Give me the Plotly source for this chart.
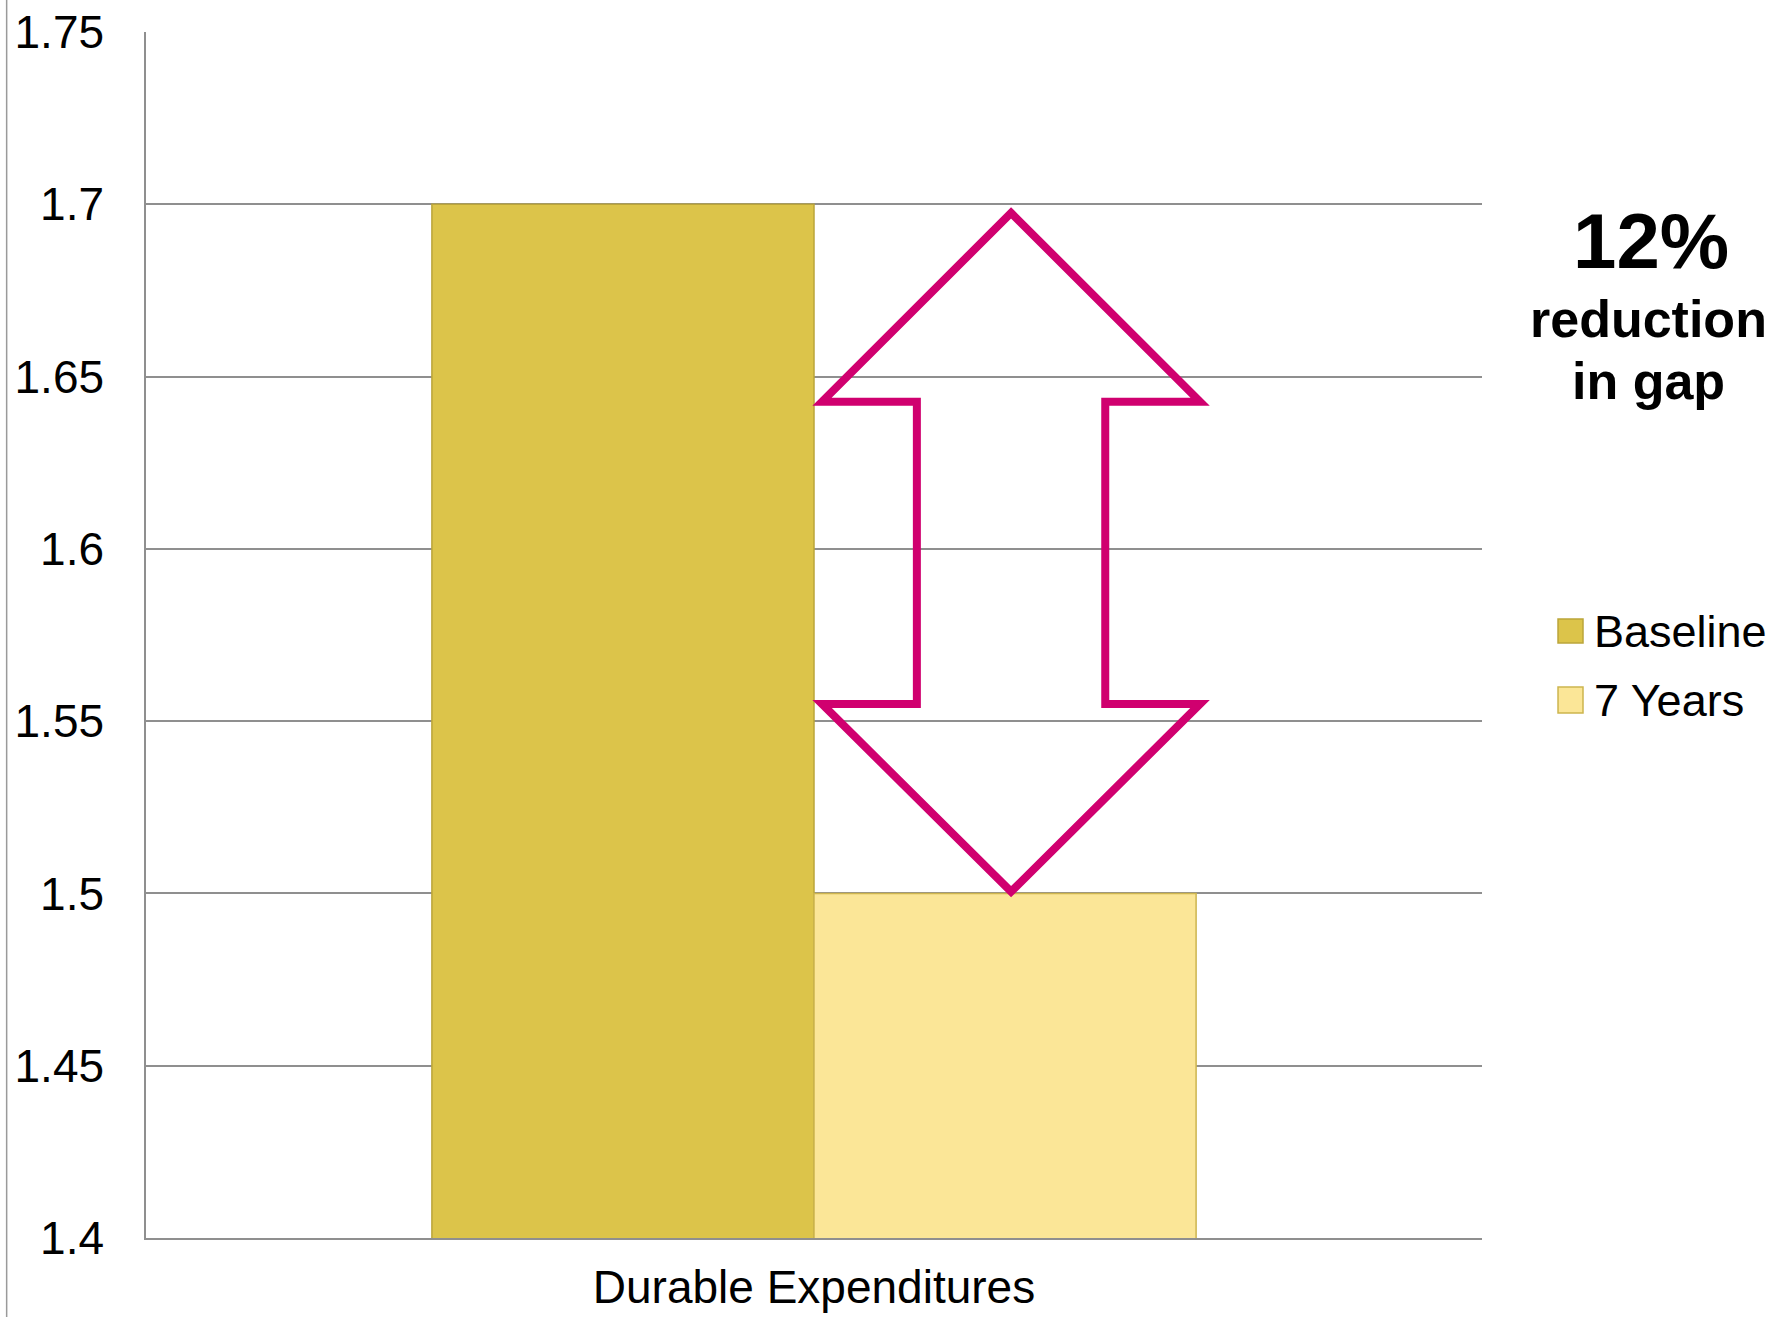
import plotly.graph_objects as go

# ---- data ----
categories = ["Durable Expenditures"]
series_names = ["Baseline", "7 Years"]
baseline_values = [1.70]
seven_year_values = [1.50]
y_tick_values = [1.4, 1.45, 1.5, 1.55, 1.6, 1.65, 1.7, 1.75]
headline_text = "12%"
subline_texts = ["reduction", "in gap"]

# ---- style ----
FONT = "Liberation Sans, Arial, sans-serif"
fill_colors = ["#DCC44A", "#FBE697"]
edge_colors = ["#BBA53A", "#CDB54E"]
grid_color = "#8F8F8F"
arrow_color = "#D0006F"

x_pos = list(range(len(categories)))

fig = go.Figure()
for name, vals, fc, ec in zip(series_names, [baseline_values, seven_year_values],
                              fill_colors, edge_colors):
    fig.add_trace(go.Bar(
        x=x_pos, y=vals, name=name,
        marker=dict(color=fc, line=dict(color=ec, width=1.5)),
        showlegend=False,
    ))

# double-headed block arrow spanning the gap between the two series
head_left, head_right = 0.006, 0.289
shaft_left, shaft_right = 0.077, 0.218
xc = (head_left + head_right) / 2
top_tip, bottom_tip = 1.6975, 1.5005
top_base, bottom_base = 1.6427, 1.555
pts = [(xc, top_tip), (head_right, top_base), (shaft_right, top_base),
       (shaft_right, bottom_base), (head_right, bottom_base), (xc, bottom_tip),
       (head_left, bottom_base), (shaft_left, bottom_base), (shaft_left, top_base),
       (head_left, top_base)]
path = "M " + " L ".join(f"{x},{y}" for x, y in pts) + " Z"
fig.add_shape(type="path", path=path, xref="x", yref="y",
              line=dict(color=arrow_color, width=8), fillcolor="rgba(0,0,0,0)",
              layer="above")

# thin frame line at the far left edge
fig.add_shape(type="line", xref="paper", yref="paper",
              x0=-0.1043, x1=-0.1043, y0=-0.1, y1=1.1,
              line=dict(color="#9A9A9A", width=1.5))

# legend drawn as swatches + labels
legend_rows = [(0.5133, 0.4934, 0.5033), (0.4568, 0.4353, 0.4461)]
for name, fc, ec, (ya, yb, yt) in zip(series_names, fill_colors, edge_colors, legend_rows):
    fig.add_shape(type="rect", xref="paper", yref="paper",
                  x0=1.0569, x1=1.0756, y0=yb, y1=ya,
                  fillcolor=fc, line=dict(color=ec, width=1.5))
    fig.add_annotation(text=name, xref="paper", yref="paper", x=1.0825, y=yt,
                       xanchor="left", yanchor="middle", showarrow=False,
                       font=dict(family=FONT, size=45, color="#000000"))

# headline annotation
fig.add_annotation(text=f"<b>{headline_text}</b>", xref="paper", yref="paper",
                   x=1.1265, y=0.8269, xanchor="center", yanchor="middle",
                   showarrow=False, font=dict(family=FONT, size=78, color="#000000"))
for txt, yy in zip(subline_texts, [0.7621, 0.7107]):
    fig.add_annotation(text=f"<b>{txt}</b>", xref="paper", yref="paper",
                       x=1.1245, y=yy, xanchor="center", yanchor="middle",
                       showarrow=False, font=dict(family=FONT, size=52, color="#000000"))

fig.update_layout(
    width=1783, height=1317,
    margin=dict(l=146, r=301, t=32, b=79, autoexpand=False),
    paper_bgcolor="white", plot_bgcolor="white",
    barmode="group", bargap=0.428, bargroupgap=0,
    font=dict(family=FONT, size=46, color="#000000"),
    xaxis=dict(range=[-0.5, 0.5], tickvals=x_pos, ticktext=categories,
               showgrid=False, zeroline=False, showline=True,
               linecolor=grid_color, linewidth=1.5, ticks="",
               ticklabelstandoff=8,
               tickfont=dict(family=FONT, size=46, color="#000000")),
    yaxis=dict(range=[1.4, 1.75], tickvals=y_tick_values,
               showgrid=True, gridcolor=grid_color, gridwidth=1.5,
               zeroline=False, showline=True, linecolor=grid_color, linewidth=1.5,
               ticks="", ticklabelstandoff=31,
               tickfont=dict(family=FONT, size=46, color="#000000")),
)

fig.write_html("out.html")
